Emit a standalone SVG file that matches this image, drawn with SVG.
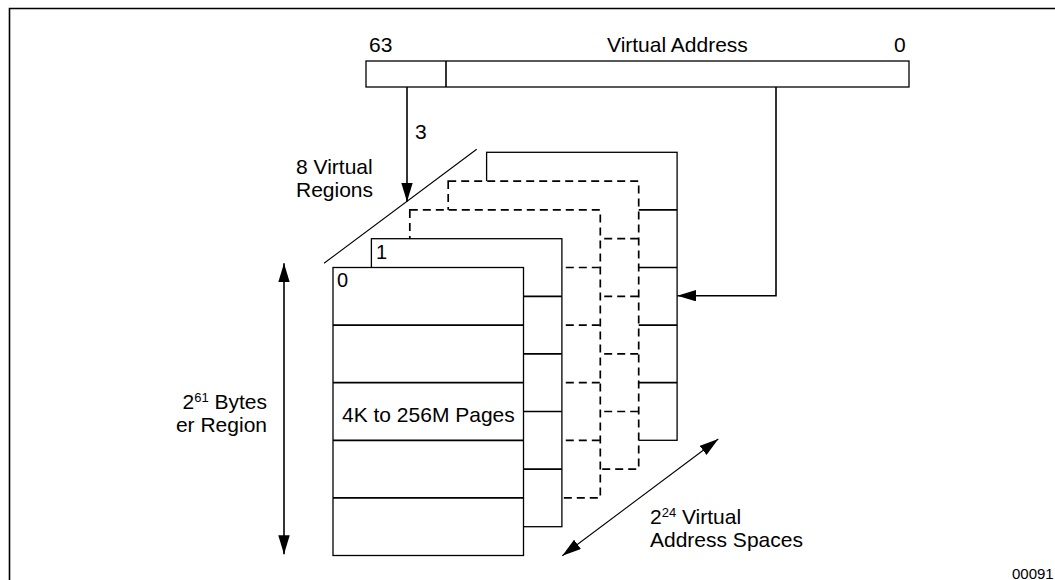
<svg xmlns="http://www.w3.org/2000/svg" width="1055" height="580" viewBox="0 0 1055 580">
<defs>
<style>
text{font-family:"Liberation Sans",Arial,Helvetica,sans-serif;font-size:21px;fill:#000}
.frame{stroke:#000;stroke-width:1.6;fill:none}
.box{fill:#fff;stroke:#000;stroke-width:1.3}
.row{stroke:#000;stroke-width:1.7;fill:none}
.dash{stroke-dasharray:8,5}
.dbox{fill:#fff;stroke:#000;stroke-width:1.7;stroke-dasharray:8,5}
.drow{stroke:#000;stroke-width:1.7;fill:none;stroke-dasharray:8,5}
.conn{stroke:#000;stroke-width:1.6;fill:none}
.thin{stroke:#000;stroke-width:1.1;fill:none}
</style>
<marker id="ah" markerUnits="userSpaceOnUse" markerWidth="20" markerHeight="12" refX="19" refY="5.75" orient="auto-start-reverse">
<path d="M0,0 L19,5.75 L0,11.5 z" fill="#000"/>
</marker>
</defs>
<rect x="0" y="0" width="1055" height="580" fill="#fff"/>
<g id="frame">
<path class="frame" d="M9.5,580 V8.5 H1055"/>
</g>
<g id="address-bar">
<rect class="box" x="366" y="61" width="543" height="26"/>
<line class="conn" x1="446" y1="61" x2="446" y2="87"/>
<text x="369" y="52">63</text>
<text x="607" y="52">Virtual Address</text>
<text x="894" y="52">0</text>
</g>
<g id="region-4">
<rect class="box" x="486.6" y="152.3" width="190.5" height="288"/>
<path class="row" d="M486.6,209.9 H677.1 M486.6,267.5 H677.1 M486.6,325.1 H677.1 M486.6,382.7 H677.1"/>
</g>
<g id="region-3">
<rect class="dbox" x="448.2" y="181.1" width="190.5" height="288"/>
<path class="drow" d="M448.2,238.7 H638.7 M448.2,296.3 H638.7 M448.2,353.9 H638.7 M448.2,411.5 H638.7"/>
</g>
<g id="region-2">
<rect class="dbox" x="409.8" y="209.9" width="190.5" height="288"/>
<path class="drow" d="M409.8,267.5 H600.3 M409.8,325.1 H600.3 M409.8,382.7 H600.3 M409.8,440.3 H600.3"/>
</g>
<g id="region-1">
<rect class="box" x="371.4" y="238.7" width="190.5" height="288"/>
<path class="row" d="M371.4,296.3 H561.9 M371.4,353.9 H561.9 M371.4,411.5 H561.9 M371.4,469.1 H561.9"/>
<text x="376" y="259" style="font-size:20px">1</text>
</g>
<g id="region-0">
<rect class="box" x="333" y="267.5" width="190.5" height="288"/>
<path class="row" d="M333,325.1 H523.5 M333,382.7 H523.5 M333,440.3 H523.5 M333,497.9 H523.5"/>
<text x="337" y="287" style="font-size:20px">0</text>
<text x="342" y="421.5">4K to 256M Pages</text>
</g>
<g id="connectors">
<line class="thin" x1="324" y1="263.3" x2="476.7" y2="149.3"/>
<line class="conn" x1="407" y1="87" x2="407" y2="201.7" marker-end="url(#ah)"/>
<polyline class="conn" points="776,87 776,295.7 677.3,295.7" marker-end="url(#ah)"/>
<line class="conn" x1="284" y1="263.3" x2="284" y2="554.3" marker-start="url(#ah)" marker-end="url(#ah)"/>
<line class="thin" x1="562.3" y1="555.7" x2="718.3" y2="439" marker-start="url(#ah)" marker-end="url(#ah)"/>
</g>
<g id="labels">
<text x="415" y="139">3</text>
<text x="296" y="174">8 Virtual</text>
<text x="296" y="196.5">Regions</text>
<text x="267" y="408.5" text-anchor="end">2<tspan dy="-7" style="font-size:13px">61</tspan><tspan dy="7"> Bytes</tspan></text>
<text x="267" y="432" text-anchor="end">er Region</text>
<text x="650" y="523.5">2<tspan dy="-7" style="font-size:13px">24</tspan><tspan dy="7"> Virtual</tspan></text>
<text x="650" y="546.5">Address Spaces</text>
<text x="1012" y="579" style="font-size:15px">00091</text>
</g>
</svg>
